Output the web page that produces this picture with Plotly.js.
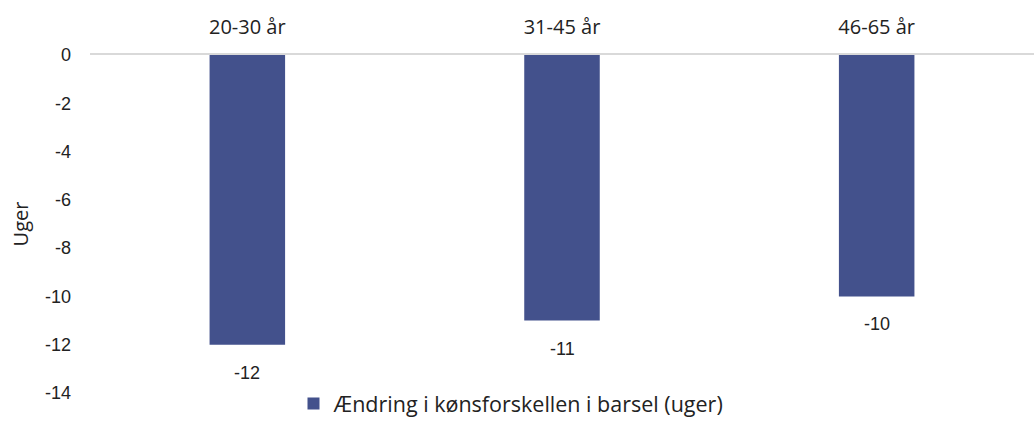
<!DOCTYPE html>
<html><head><meta charset="utf-8">
<script src="https://cdn.plot.ly/plotly-3.0.1.min.js"></script>
<style>html,body{margin:0;padding:0;background:#fff;overflow:hidden}</style>
</head><body><div id="chart" style="width:1034px;height:424px"></div>
<script>
const categories = ['20-30 år', '31-45 år', '46-65 år'];
const values = [-12, -11, -10];
const seriesName = 'Ændring i kønsforskellen i barsel (uger)';
const yTicks = [0, -2, -4, -6, -8, -10, -12, -14];

const mainFont = '"Open Sans", Lato, sans-serif';
const numFont = '"Liberation Sans", Arial, sans-serif';
Plotly.newPlot('chart', [{
  type: 'bar', x: categories, y: values, name: seriesName,
  marker: {color: '#43518C'}, hoverinfo: 'none'
}], {
  width: 1034, height: 424,
  margin: {l: 90, r: 0, t: 55, b: 0},
  paper_bgcolor: '#fff', plot_bgcolor: '#fff',
  bargap: 0.76,
  font: {family: mainFont, size: 20, color: '#222'},
  xaxis: {side: 'top', showline: true, linecolor: '#d9d9d9', linewidth: 2, ticks: '',
          showgrid: false, tickfont: {family: mainFont, size: 20}, ticklabelstandoff: 11},
  yaxis: {range: [-14, 0], domain: [0.084, 1], tickvals: yTicks, ticktext: yTicks.map(String), showgrid: false,
          zeroline: false, ticks: '', ticklabelstandoff: 18,
          tickfont: {family: numFont, size: 18, color: '#222'},
          title: {text: 'Uger', font: {family: mainFont, size: 20}, standoff: 10}},
  annotations: categories.map((c, i) => ({
    x: c, y: values[i], xref: 'x', yref: 'y', text: String(values[i]),
    showarrow: false, yshift: -28, font: {family: numFont, size: 18, color: '#222'}
  })),
  showlegend: true,
  legend: {orientation: 'h', x: 0.4465, xanchor: 'center', y: 0, yanchor: 'bottom',
           font: {family: mainFont, size: 21.5}}
}, {displayModeBar: false});
</script></body></html>
